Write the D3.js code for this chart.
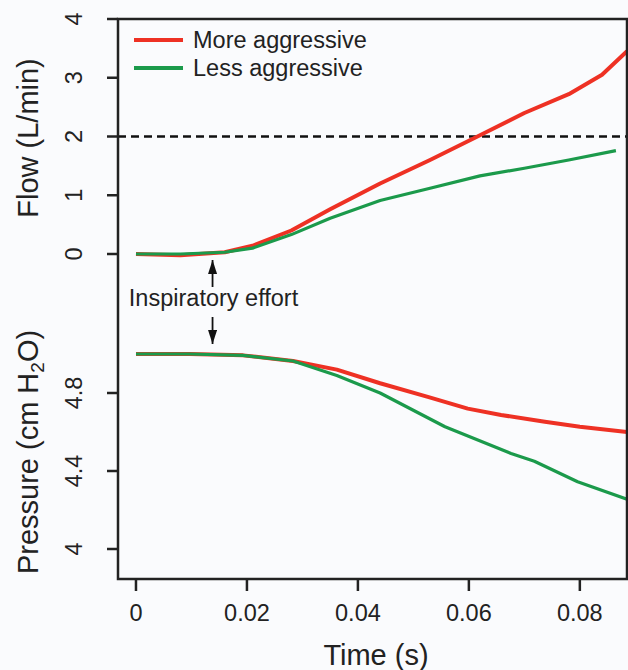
<!DOCTYPE html>
<html>
<head>
<meta charset="utf-8">
<script src="https://cdn.jsdelivr.net/npm/d3@7"></script>
<style>
  html, body { margin: 0; padding: 0; background: #fafbfd; }
  svg { display: block; font-family: "Liberation Sans", Arial, sans-serif; }
</style>
</head>
<body>
<div id="chart"></div>
<script>
// series values
const seriesNames = ["More aggressive", "Less aggressive"];
const seriesColors = ["#ee3124", "#1b9a4b"];

const flowTimeMore = [0, 0.008, 0.016, 0.021, 0.028, 0.035, 0.044, 0.053, 0.062, 0.070, 0.078, 0.084, 0.0885];
const flowMore     = [0, -0.02, 0.03, 0.14, 0.40, 0.76, 1.20, 1.60, 2.02, 2.40, 2.72, 3.05, 3.45];
const flowTimeLess = [0, 0.008, 0.016, 0.021, 0.028, 0.035, 0.044, 0.053, 0.062, 0.070, 0.078, 0.0865];
const flowLess     = [0, 0.0, 0.03, 0.10, 0.33, 0.61, 0.91, 1.12, 1.33, 1.46, 1.60, 1.76];

const pressTimeMore = [0, 0.0097, 0.0193, 0.0283, 0.0362, 0.044, 0.0526, 0.0598, 0.0658, 0.0737, 0.080, 0.0885];
const pressMore     = [5.0, 5.0, 4.993, 4.964, 4.92, 4.85, 4.78, 4.72, 4.687, 4.653, 4.627, 4.60];
const pressTimeLess = [0, 0.0097, 0.0193, 0.0283, 0.0362, 0.044, 0.0557, 0.0676, 0.0718, 0.0796, 0.0885];
const pressLess     = [5.0, 5.0, 4.993, 4.964, 4.89, 4.80, 4.627, 4.49, 4.45, 4.345, 4.255];

const timeTicks = [0, 0.02, 0.04, 0.06, 0.08];
const flowTicks = [0, 1, 2, 3, 4];
const pressTicks = [4, 4.4, 4.8];
const flowThreshold = 2;
const effortTime = 0.0138;

const width = 628, height = 670;
const box = { left: 118, top: 19, right: 627, bottom: 579 };

const svg = d3.select("#chart").append("svg")
    .attr("width", width)
    .attr("height", height);

const x = d3.scaleLinear().domain([-0.00324, 0.0885]).range([box.left, box.right]);
const yFlow = d3.scaleLinear().domain([0, 4]).range([254, box.top]);
const yPress = d3.scaleLinear().domain([4, 4.8]).range([549, 393]);

svg.append("clipPath").attr("id", "clip")
    .append("rect")
    .attr("x", box.left).attr("y", box.top)
    .attr("width", box.right - box.left).attr("height", box.bottom - box.top);

const plot = svg.append("g").attr("clip-path", "url(#clip)");

// dashed threshold
plot.append("line")
    .attr("x1", box.left).attr("x2", box.right)
    .attr("y1", yFlow(flowThreshold)).attr("y2", yFlow(flowThreshold))
    .attr("stroke", "#111")
    .attr("stroke-width", 2.5)
    .attr("stroke-dasharray", "8,5");

const flowLine = d3.line().x(d => x(d[0])).y(d => yFlow(d[1]));
const pressLine = d3.line().x(d => x(d[0])).y(d => yPress(d[1]));

const flowSeries = [d3.zip(flowTimeMore, flowMore), d3.zip(flowTimeLess, flowLess)];
const pressSeries = [d3.zip(pressTimeMore, pressMore), d3.zip(pressTimeLess, pressLess)];

// red drawn first, green on top (as in the figure)
[0, 1].forEach(i => {
    plot.append("path")
        .attr("d", flowLine(flowSeries[i]))
        .attr("fill", "none")
        .attr("stroke", seriesColors[i])
        .attr("stroke-width", i === 0 ? 4 : 3.2)
        .attr("stroke-linejoin", "round");
    plot.append("path")
        .attr("d", pressLine(pressSeries[i]))
        .attr("fill", "none")
        .attr("stroke", seriesColors[i])
        .attr("stroke-width", i === 0 ? 4 : 3.2)
        .attr("stroke-linejoin", "round");
});

// frame
svg.append("rect")
    .attr("x", box.left).attr("y", box.top)
    .attr("width", box.right - box.left).attr("height", box.bottom - box.top)
    .attr("fill", "none")
    .attr("stroke", "#222")
    .attr("stroke-width", 2.5);

// y ticks (rotated labels)
function yTicks(scale, ticks, fmt) {
    const g = svg.append("g");
    ticks.forEach(v => {
        const yy = scale(v);
        g.append("line")
            .attr("x1", box.left - 11).attr("x2", box.left)
            .attr("y1", yy).attr("y2", yy)
            .attr("stroke", "#222").attr("stroke-width", 2.5);
        g.append("text")
            .attr("transform", `translate(74,${yy}) rotate(-90)`)
            .attr("text-anchor", "middle")
            .attr("dy", "0.36em")
            .attr("font-size", 23.5)
            .attr("fill", "#222")
            .text(fmt(v));
    });
}
yTicks(yFlow, flowTicks, d => d);
yTicks(yPress, pressTicks, d => d);

// x ticks
const gx = svg.append("g");
timeTicks.forEach(v => {
    gx.append("line")
        .attr("x1", x(v)).attr("x2", x(v))
        .attr("y1", box.bottom).attr("y2", box.bottom + 12)
        .attr("stroke", "#222").attr("stroke-width", 2.5);
    gx.append("text")
        .attr("x", x(v)).attr("y", 621)
        .attr("text-anchor", "middle")
        .attr("font-size", 23.5)
        .attr("fill", "#222")
        .text(v === 0 ? "0" : v.toFixed(2));
});

// axis titles
svg.append("text")
    .attr("x", 376).attr("y", 665)
    .attr("text-anchor", "middle")
    .attr("font-size", 29)
    .attr("fill", "#222")
    .text("Time (s)");

svg.append("text")
    .attr("transform", "translate(28,138) rotate(-90)")
    .attr("text-anchor", "middle")
    .attr("dy", "0.36em")
    .attr("font-size", 29)
    .attr("fill", "#222")
    .text("Flow (L/min)");

const pt = svg.append("text")
    .attr("transform", "translate(28,452) rotate(-90)")
    .attr("text-anchor", "middle")
    .attr("dy", "0.36em")
    .attr("font-size", 29)
    .attr("fill", "#222");
pt.append("tspan").text("Pressure (cm H");
pt.append("tspan").attr("font-size", 19).attr("dy", "0.3em").text("2");
pt.append("tspan").attr("dy", "-0.2em").text("O)");

// legend
seriesNames.forEach((name, i) => {
    const ly = 40 + i * 28;
    svg.append("line")
        .attr("x1", 134).attr("x2", 183)
        .attr("y1", ly).attr("y2", ly)
        .attr("stroke", seriesColors[i])
        .attr("stroke-width", 4);
    svg.append("text")
        .attr("x", 193).attr("y", ly)
        .attr("dy", "0.36em")
        .attr("font-size", 23.5)
        .attr("fill", "#222")
        .text(name);
});

// inspiratory effort annotation
svg.append("defs").append("marker")
    .attr("id", "arrow")
    .attr("viewBox", "0 0 14 9")
    .attr("refX", 14).attr("refY", 4.5)
    .attr("markerWidth", 14).attr("markerHeight", 9)
    .attr("markerUnits", "userSpaceOnUse")
    .attr("orient", "auto")
    .append("path")
    .attr("d", "M0,0 L14,4.5 L0,9 Z")
    .attr("fill", "#111");

const ax = x(effortTime);
svg.append("line")
    .attr("x1", ax).attr("x2", ax)
    .attr("y1", 287).attr("y2", 260)
    .attr("stroke", "#111").attr("stroke-width", 1.8)
    .attr("marker-end", "url(#arrow)");
svg.append("line")
    .attr("x1", ax).attr("x2", ax)
    .attr("y1", 317).attr("y2", 344)
    .attr("stroke", "#111").attr("stroke-width", 1.8)
    .attr("marker-end", "url(#arrow)");
svg.append("text")
    .attr("x", ax + 1).attr("y", 306)
    .attr("text-anchor", "middle")
    .attr("font-size", 23.5)
    .attr("fill", "#222")
    .text("Inspiratory effort");
</script>
</body>
</html>
